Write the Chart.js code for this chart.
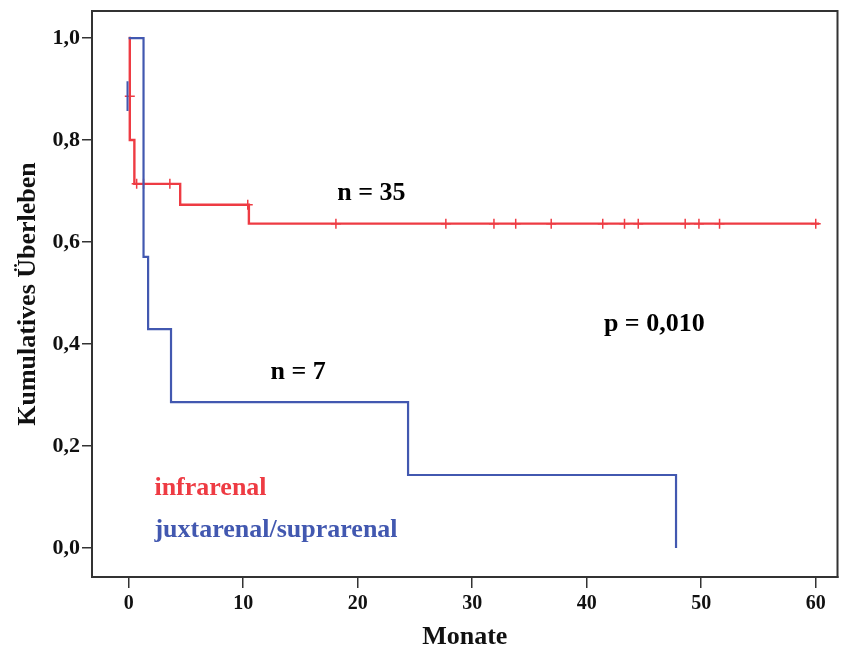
<!DOCTYPE html>
<html>
<head>
<meta charset="utf-8">
<script src="https://cdn.jsdelivr.net/npm/chart.js@4"></script>
<style>
  html, body { margin: 0; padding: 0; background: #fff; }
  #wrap { width: 844px; height: 653px; }
</style>
</head>
<body>
<div id="wrap"><canvas id="chart" width="844" height="653"></canvas></div>
<script>
// infrarenal (n = 35): step points of the survival curve
const infraTimes = [0, 0.1, 0.5, 4.5, 10.5, 60.3]
const infraSurv = [1, 0.8, 0.714, 0.673, 0.636, 0.636]
// censored cases (infrarenal)
const infraCensorTimes = [0.1, 0.7, 1.3, 3.6, 10.4, 18.1, 27.7, 31.9, 33.8, 36.9, 41.4, 43.3, 44.5, 48.6, 49.8, 51.6, 60.0]
const infraCensorSurv = [0.886, 0.714, 0.714, 0.714, 0.673, 0.636, 0.636, 0.636, 0.636, 0.636, 0.636, 0.636, 0.636, 0.636, 0.636, 0.636, 0.636]

// juxtarenal/suprarenal (n = 7)
const juxtaTimes = [0, 1.3, 1.7, 3.7, 24.4, 47.8]
const juxtaSurv = [1, 0.571, 0.429, 0.286, 0.143, 0]
// short blue stroke at t = 0
const juxtaMarkTimes = [-0.1, -0.1]
const juxtaMarkSurv = [0.857, 0.915]

const xTicks = [0, 10, 20, 30, 40, 50, 60]
const yTicks = [0, 0.2, 0.4, 0.6, 0.8, 1.0]

const notes = [
  { text: 'n = 35', x: 21.2, y: 0.695, color: '#000', align: 'center' },
  { text: 'p = 0,010', x: 45.9, y: 0.438, color: '#000', align: 'center' },
  { text: 'n = 7', x: 14.8, y: 0.345, color: '#000', align: 'center' },
  { text: 'infrarenal', x: 2.25, y: 0.117, color: '#ee3b43', align: 'left' },
  { text: 'juxtarenal/suprarenal', x: 2.25, y: 0.035, color: '#4258b0', align: 'left' }
]

const RED = '#ee3b43'
const BLUE = '#4258b0'
const FONT = '"Liberation Serif", "Times New Roman", serif'

function pts(xs, ys) {
  return xs.map((x, i) => ({ x: x, y: ys[i] }))
}

const frame = {
  id: 'frame',
  afterDraw(chart) {
    const { ctx, chartArea: a } = chart
    ctx.save()
    ctx.strokeStyle = '#333'
    ctx.lineWidth = 2
    ctx.strokeRect(a.left, a.top, a.right - a.left, a.bottom - a.top)
    ctx.restore()
  }
}

const labels = {
  id: 'labels',
  afterDatasetsDraw(chart) {
    const { ctx, scales } = chart
    ctx.save()
    ctx.font = 'bold 26px ' + FONT
    ctx.textBaseline = 'middle'
    notes.forEach((n) => {
      ctx.fillStyle = n.color
      ctx.textAlign = n.align
      ctx.fillText(n.text, scales.x.getPixelForValue(n.x), scales.y.getPixelForValue(n.y))
    })
    ctx.restore()
  }
}

window.addEventListener('load', function () {
  const ctx = document.getElementById('chart')
  new Chart(ctx, {
    type: 'scatter',
    data: {
      datasets: [
        {
          label: 'juxtarenal/suprarenal',
          data: pts(juxtaTimes, juxtaSurv),
          showLine: true,
          stepped: true,
          borderColor: BLUE,
          borderWidth: 2.2,
          pointRadius: 0,
          pointHoverRadius: 0,
          fill: false
        },
        {
          label: 'juxta mark',
          data: pts(juxtaMarkTimes, juxtaMarkSurv),
          showLine: true,
          borderColor: BLUE,
          borderWidth: 2,
          pointRadius: 0,
          pointHoverRadius: 0
        },
        {
          label: 'infrarenal',
          data: pts(infraTimes, infraSurv),
          showLine: true,
          stepped: true,
          borderColor: RED,
          borderWidth: 2.4,
          pointRadius: 0,
          pointHoverRadius: 0,
          fill: false
        },
        {
          label: 'infrarenal censored',
          data: pts(infraCensorTimes, infraCensorSurv),
          pointStyle: 'cross',
          pointRadius: 5,
          pointHoverRadius: 5,
          borderColor: RED,
          borderWidth: 1.5
        }
      ]
    },
    options: {
      responsive: false,
      animation: false,
      events: [],
      layout: { padding: { top: 11, right: 6, left: 0, bottom: 0 } },
      plugins: {
        legend: { display: false },
        tooltip: { enabled: false }
      },
      scales: {
        x: {
          type: 'linear',
          min: -3.2,
          max: 61.9,
          afterFit: (s) => { s.height = 76; s.paddingRight = 0 },
          afterBuildTicks: (s) => { s.ticks = xTicks.map((v) => ({ value: v })) },
          grid: { drawOnChartArea: false, drawTicks: true, tickLength: 11, color: '#333', lineWidth: 1.5 },
          border: { display: true, color: '#333', width: 2 },
          ticks: {
            color: '#111',
            padding: 4,
            font: { family: FONT, size: 20, weight: 'bold' }
          },
          title: {
            display: true,
            text: 'Monate',
            color: '#111',
            padding: { top: 0, bottom: 0 },
            font: { family: FONT, size: 26, weight: 'bold' }
          }
        },
        y: {
          type: 'linear',
          min: -0.057,
          max: 1.053,
          afterFit: (s) => { s.width = 92; s.paddingTop = 0; s.paddingBottom = 0 },
          afterBuildTicks: (s) => { s.ticks = yTicks.map((v) => ({ value: v })) },
          grid: { drawOnChartArea: false, drawTicks: true, tickLength: 10, color: '#333', lineWidth: 1.5 },
          border: { display: true, color: '#333', width: 2 },
          ticks: {
            color: '#111',
            padding: 2,
            font: { family: FONT, size: 22, weight: 'bold' },
            callback: (v) => v.toFixed(1).replace('.', ',')
          },
          title: {
            display: true,
            text: 'Kumulatives Überleben',
            color: '#111',
            padding: { top: 13, bottom: 0 },
            font: { family: FONT, size: 26, weight: 'bold' }
          }
        }
      }
    },
    plugins: [frame, labels]
  })
})
</script>
</body>
</html>
